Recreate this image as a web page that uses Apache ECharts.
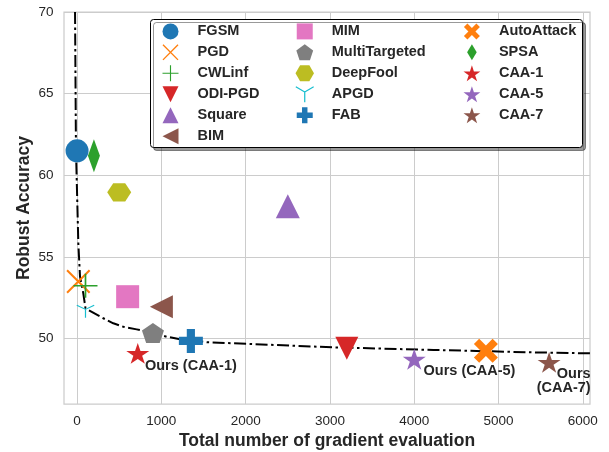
<!DOCTYPE html>
<html><head><meta charset="utf-8">
<script src="https://cdn.jsdelivr.net/npm/echarts@6/dist/echarts.min.js"></script>
<style>html,body{margin:0;padding:0;background:#fff}#c{width:609px;height:452px}</style>
</head><body><div id="c"></div>
<script>
// ---- data ----
const attackNames = ['FGSM','PGD','CWLinf','ODI-PGD','Square','BIM','MIM','MultiTargeted','DeepFool','APGD','FAB','AutoAttack','SPSA','CAA-1','CAA-5','CAA-7'];
const gradEvals   = [0, 15, 100, 3200, 2500, 1000, 600, 900, 500, 100, 1350, 4850, 200, 720, 4000, 5600];
const robustAcc   = [61.5, 53.5, 53.24, 49.41, 58.1, 51.96, 52.57, 50.35, 58.96, 51.8, 49.86, 49.26, 61.2, 49.1, 48.74, 48.55];
const frontierEvals = [-24, -13, 15, 35, 74, 100, 311, 430, 549, 707, 826, 885, 1063, 1221, 1360, 1538, 3040, 4227, 5413, 6085];
const frontierAcc   = [70, 61.55, 55.84, 53.8, 52.78, 51.85, 51.25, 50.94, 50.73, 50.57, 50.43, 50.37, 50.12, 49.96, 49.9, 49.78, 49.47, 49.31, 49.16, 49.1];
const xTicks = [0, 1000, 2000, 3000, 4000, 5000, 6000];
const yTicks = [50, 55, 60, 65, 70];
const legendCol1 = ['FGSM','PGD','CWLinf','ODI-PGD','Square','BIM'];
const legendCol2 = ['MIM','MultiTargeted','DeepFool','APGD','FAB'];
const legendCol3 = ['AutoAttack','SPSA','CAA-1','CAA-5','CAA-7'];
const oursText = {'CAA-1':'Ours (CAA-1)','CAA-5':'Ours (CAA-5)','CAA-7':'Ours\n(CAA-7)'};
const xTitle = 'Total number of gradient evaluation';
const yTitle = 'Robust Accuracy';

// ---- styles ----
const FONT = '"Liberation Sans", Arial, sans-serif';
const TXT = '#262626';
const P = {
  star: 'path://M50,0L61.23,34.55L97.55,34.55L68.17,55.9L79.39,90.45L50,69.1L20.61,90.45L31.83,55.9L2.45,34.55L38.77,34.55Z',
  thinX: 'path://M0,6L6,0L100,94L94,100Z M100,6L6,100L0,94L94,0Z',
  thinPlus: 'path://M46.5,0H53.5V46.5H100V53.5H53.5V100H46.5V53.5H0V46.5H46.5Z',
  triDown: 'path://M0,0L100,0L50,100Z',
  triUp: 'path://M50,0L100,100L0,100Z',
  triLeft: 'path://M0,50L100,0L100,100Z',
  square: 'path://M0,0H100V100H0Z',
  pentagon: 'path://M50,0L97.6,34.5L79.4,90.5L20.6,90.5L2.4,34.5Z',
  hexagon: 'path://M0,43.3L25,0L75,0L100,43.3L75,86.6L25,86.6Z',
  yMark: 'path://M47,50L47,100L53,100L53,50Z M51.5,52.6L94.8,27.6L91.8,22.4L48.5,47.4Z M51.5,47.4L8.2,22.4L5.2,27.6L48.5,52.6Z',
  plusFill: 'path://M33,0H67V33H100V67H67V100H33V67H0V33H33Z',
  xFill: 'path://M0,22L22,0L50,28L78,0L100,22L72,50L100,78L78,100L50,72L22,100L0,78L28,50Z',
  thinDiamond: 'path://M30,0L60,50L30,100L0,50Z'
};
const styleOf = {
  'FGSM':          {symbol:'circle',      size:23,      color:'#1f77b4'},
  'PGD':           {symbol:P.thinX,       size:24,      color:'#ff7f0e'},
  'CWLinf':        {symbol:P.thinPlus,    size:24,      color:'#2ca02c'},
  'ODI-PGD':       {symbol:P.triDown,     size:23,      color:'#d62728'},
  'Square':        {symbol:P.triUp,       size:24,      color:'#9467bd'},
  'BIM':           {symbol:P.triLeft,     size:23,      color:'#8c564b'},
  'MIM':           {symbol:P.square,      size:23,      color:'#e377c2'},
  'MultiTargeted': {symbol:P.pentagon,    size:[22,21], color:'#7f7f7f'},
  'DeepFool':      {symbol:P.hexagon,     size:[24,21], color:'#bcbd22'},
  'APGD':          {symbol:P.yMark,       size:[18,15], color:'#17becf', offset:[0,2]},
  'FAB':           {symbol:P.plusFill,    size:24,      color:'#1f77b4'},
  'AutoAttack':    {symbol:P.xFill,       size:24,      color:'#ff7f0e'},
  'SPSA':          {symbol:P.thinDiamond, size:[20,33], color:'#2ca02c'},
  'CAA-1':         {symbol:P.star,        size:[23,22], color:'#d62728'},
  'CAA-5':         {symbol:P.star,        size:[23,22], color:'#9467bd'},
  'CAA-7':         {symbol:P.star,        size:[23,22], color:'#8c564b'}
};
const labelLayout = {
  'CAA-1': {offset:[-4.3, 12.5], align:'left'},
  'CAA-5': {offset:[-2.2, 11.5], align:'left'},
  'CAA-7': {offset:[30, 18.5], align:'right'}
};

const chart = echarts.init(document.getElementById('c'), null, {renderer:'canvas'});

const series = [];
// grid lines drawn from tick arrays
series.push({
  type:'line', data:[], z:1, silent:true, animation:false,
  markLine:{
    z:1, silent:true, animation:false, symbol:['none','none'], label:{show:false},
    lineStyle:{color:'#cccccc', width:1, type:'solid'},
    emphasis:{disabled:true},
    data: yTicks.map(v => ({yAxis:v})).concat(xTicks.map(v => ({xAxis:v})))
  }
});
// frontier line
series.push({
  type:'line', z:2, silent:true, animation:false, symbol:'none',
  data: frontierEvals.map((x, i) => [x, frontierAcc[i]]),
  lineStyle:{color:'#000', width:2, type:[12, 3.5, 2.5, 3.5]}
});
attackNames.forEach((name, i) => {
  const st = styleOf[name];
  const s = {
    name, type:'scatter', z:3, animation:false,
    data: [[gradEvals[i], robustAcc[i]]],
    symbol: st.symbol, symbolSize: st.size, symbolKeepAspect:true,
    symbolOffset: st.offset || [0,0],
    itemStyle:{color:st.color, opacity:1},
    emphasis:{disabled:true}
  };
  if (oursText[name]) {
    const ll = labelLayout[name];
    s.label = {show:true, position:'right', distance:0, offset:ll.offset, align:ll.align,
      verticalAlign:'middle', formatter: oursText[name], fontWeight:'bold', fontSize:14.5,
      lineHeight:14.6, color:TXT, fontFamily:FONT};
  }
  series.push(s);
});

const legendBase = {
  orient:'vertical', padding:0, itemWidth:44, itemHeight:16, itemGap:4.95, top:23.4,
  symbolKeepAspect:true, selectedMode:false, z:20,
  textStyle:{fontWeight:'bold', fontSize:14.5, color:TXT, fontFamily:FONT}
};
const mkLegend = (names, left) => Object.assign({}, legendBase, {
  left, data: names.map(n => ({name:n, symbolKeepAspect:true}))
});

chart.setOption({
  animation:false,
  backgroundColor:'#ffffff',
  grid:{left:64, right:19, top:12, bottom:48, show:true, containLabel:false, outerBoundsMode:'none',
    borderColor:'#cccccc', borderWidth:1.25, backgroundColor:'transparent'},
  xAxis:{
    type:'value', min:-155, max:6085,
    axisLine:{show:false}, axisTick:{show:false}, splitLine:{show:false},
    axisLabel:{customValues:xTicks, formatter:v => String(v), color:TXT, fontSize:13.5, margin:10, fontFamily:FONT},
    name:xTitle, nameLocation:'middle', nameGap:28, nameMoveOverlap:false,
    nameTextStyle:{fontWeight:'bold', fontSize:17.5, color:TXT, fontFamily:FONT}
  },
  yAxis:{
    type:'value', min:46, max:70,
    axisLine:{show:false}, axisTick:{show:false}, splitLine:{show:false},
    axisLabel:{customValues:yTicks, formatter:v => String(v), color:TXT, fontSize:13.5, margin:10.5, fontFamily:FONT},
    name:yTitle, nameLocation:'middle', nameGap:31, nameMoveOverlap:false,
    nameTextStyle:{fontWeight:'bold', fontSize:17.5, color:TXT, fontFamily:FONT}
  },
  legend:[mkLegend(legendCol1, 162.5), mkLegend(legendCol2, 295.5), mkLegend(legendCol3, 463.5)],
  graphic:[{
    type:'rect', z:10, silent:true,
    shape:{x:150.5, y:19.5, width:432, height:128, r:3},
    style:{fill:'#ffffff', stroke:'#000000', lineWidth:1,
      shadowColor:'rgba(0,0,0,0.4)', shadowOffsetX:3, shadowOffsetY:3, shadowBlur:0}
  }],
  series
});
</script></body></html>
